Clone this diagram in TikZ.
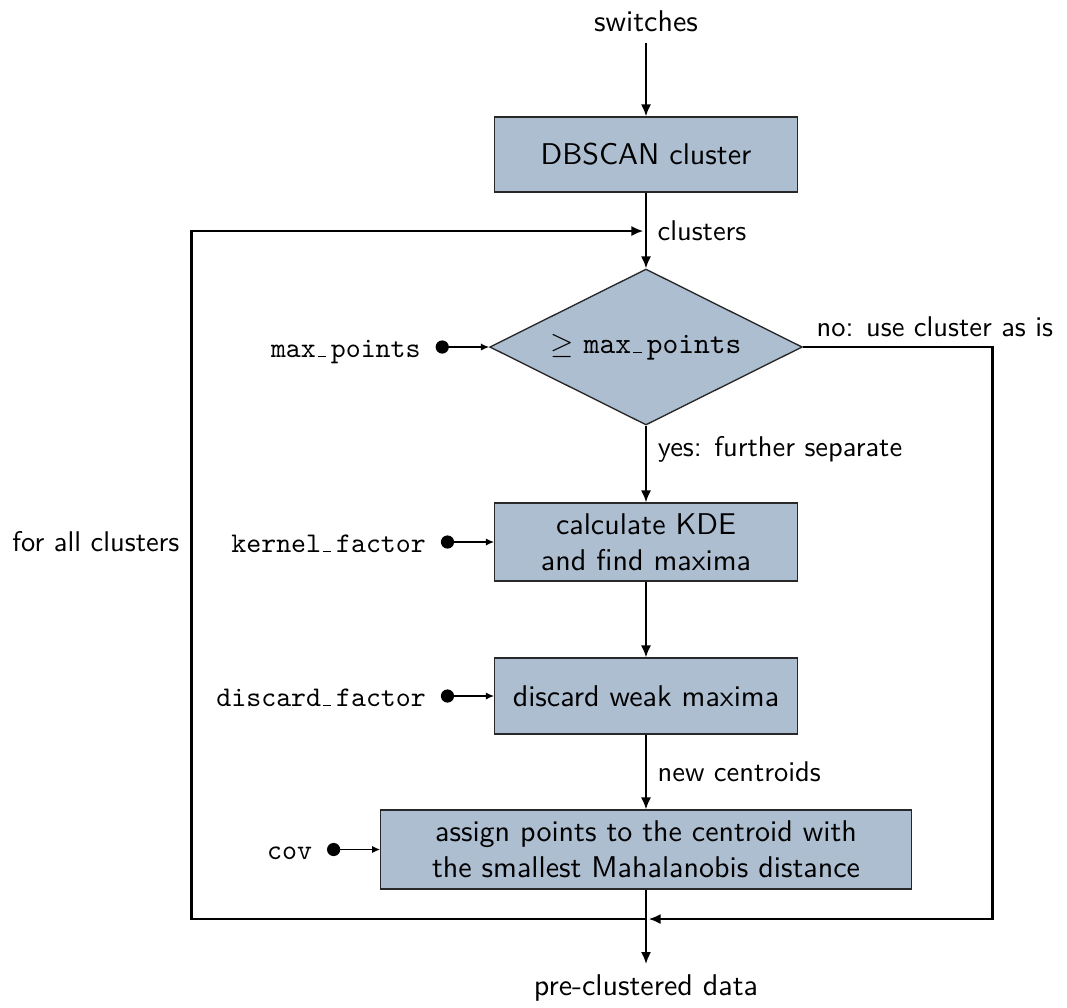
\documentclass[tikz,border=0pt]{standalone}
\usetikzlibrary{shapes.geometric,arrows.meta,calc}
\definecolor{boxfill}{RGB}{173,190,209}
\definecolor{boxline}{RGB}{40,40,40}
% short low rule for underscores in typewriter names
\newcommand{\lowbar}{\leavevmode\kern.06em\vbox{\hrule width.3em height.4pt}\kern.165em}
\begin{document}
\begin{tikzpicture}[x=0.33333pt,y=-0.33333pt]
\tikzset{
  box/.style={draw=boxline, line width=0.45pt, fill=boxfill, font=\sffamily,
    align=center, minimum width=100.9pt, minimum height=25pt, inner sep=0pt},
  decision/.style={diamond, aspect=2, draw=boxline, line width=0.45pt, fill=boxfill,
    minimum width=104.2pt, minimum height=52pt, inner sep=0pt, font=\sffamily},
  flow/.style={line width=0.7pt, -{Latex[length=4pt,width=3.4pt]}},
  feed/.style={line width=0.4pt, -{Latex[length=2.7pt,width=2.4pt]}},
  param/.style={circle, fill=black, inner sep=0pt, minimum size=4.4pt},
  lbl/.style={font=\sffamily\fontsize{9.5}{11.4}\selectfont, inner sep=0pt},
  paramlbl/.style={font=\ttfamily\fontsize{9.5}{11.4}\selectfont, inner sep=0pt, anchor=base east},
  term/.style={font=\sffamily, inner sep=3.33pt},
}
\useasboundingbox (0,0) rectangle (1067,1007);

% main chain
\node[term, anchor=base] (sw) at (646,31.7) {switches};
\node[box] (db) at (646,154.5) {DBSCAN cluster};
\node[decision] (dec) at (646,347) {$\geq$ \texttt{max\lowbar points}};
\node[box, minimum height=26pt] (kde) at (646,542) {calculate KDE\\and find maxima};
\node[box, minimum height=25.3pt] (disc) at (646,696) {discard weak maxima};
\node[box, minimum width=176.8pt, minimum height=26.3pt] (assign) at (646,849.5)
  {assign points to the centroid with\\the smallest Mahalanobis distance};
\node[term, anchor=north] (out) at (646,964) {pre-clustered data};

% loop junctions and corners
\coordinate (jin) at (646,231);
\coordinate (jout) at (646,919);
\coordinate (cornerLB) at (191.5,919);
\coordinate (cornerLT) at (191.5,231);
\coordinate (cornerRT) at (992.5,347);
\coordinate (cornerRB) at (992.5,919);

\draw[flow] (sw.south) -- (db.north);
\draw[flow] (db.south) -- (dec.north);
\draw[flow] (dec.south) -- (kde.north);
\draw[flow] (kde.south) -- (disc.north);
\draw[flow] (disc.south) -- (assign.north);
\draw[flow] (assign.south) -- (out.north);

\node[lbl, anchor=base west] (lclu) at (657,240.7) {clusters};
\node[lbl, anchor=base west] (lyes) at (657.3,456.7) {yes: further separate};
\node[lbl, anchor=base west] (lnew) at (657,781.5) {new centroids};
\node[lbl, anchor=base west] (lno) at (816,336) {no: use cluster as is};
\node[lbl, anchor=base east] (lall) at (180,551.7) {for all clusters};

% bypass and repeat loops
\draw[flow, shorten >=0.9pt] (dec.east) -- (cornerRT) -- (cornerRB) -- (jout);
\draw[flow, shorten >=0.9pt] (jout) -- (cornerLB) -- (cornerLT) -- (jin);

% parameters
\node[param] (pmax) at ($(dec.west)+(-46.8,0)$) {};
\node[param] (pker) at ($(kde.west)+(-46.5,0)$) {};
\node[param] (pdis) at ($(disc.west)+(-46.5,0)$) {};
\node[param] (pcov) at ($(assign.west)+(-46.5,0)$) {};
\draw[feed] (pmax.center) -- (dec.west);
\draw[feed] (pker.center) -- (kde.west);
\draw[feed] (pdis.center) -- (disc.west);
\draw[feed] (pcov.center) -- (assign.west);
\node[paramlbl] (lmax) at ($(pmax)+(-21,10)$) {max\lowbar points};
\node[paramlbl] (lker) at ($(pker)+(-21,10)$) {kernel\lowbar factor};
\node[paramlbl] (ldis) at ($(pdis)+(-21,10)$) {discard\lowbar factor};
\node[paramlbl] (lcov) at ($(pcov)+(-21,10)$) {cov};
\end{tikzpicture}
\end{document}
